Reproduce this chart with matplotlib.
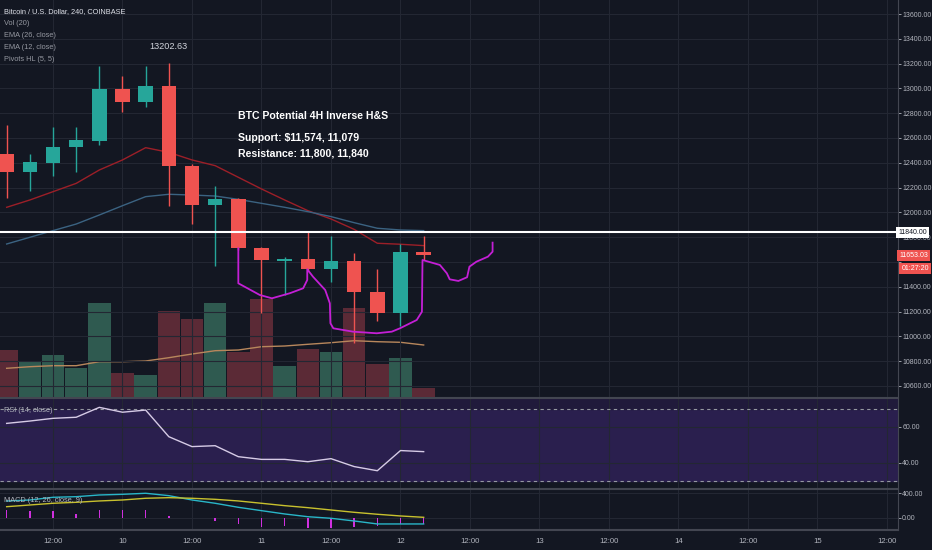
import matplotlib
matplotlib.use("Agg")
import matplotlib.pyplot as plt
import matplotlib.transforms as mtransforms
import numpy as np

# 4h candles, x = hours counted from the 9th 00:00
hours = np.arange(4, 80, 4)
opens = [12468, 12326, 12401, 12525, 12578, 12995, 12888, 13022, 12374, 12060,
         12108, 11715, 11610, 11622, 11541, 11608, 11361, 11191, 11678]
highs = [12705, 12468, 12691, 12691, 13181, 13100, 13181, 13202.63, 12388, 12213,
         12115, 11720, 11643, 11850, 11812, 11670, 11541, 11745, 11810]
lows = [12114, 12175, 12296, 12328, 12544, 12812, 12852, 12052, 11906, 11570,
        11700, 11186, 11334, 11530, 11441, 10944, 11127, 11084, 11616]
closes = [12326, 12404, 12530, 12584, 12995, 12888, 13022, 12374, 12060, 12108,
          11710, 11616, 11622, 11541, 11608, 11355, 11191, 11683, 11653.03]
volume = [4700, 3530, 4200, 2930, 9370, 2370, 2200, 8600, 7800, 9370,
          4530, 9800, 3130, 4800, 4530, 8870, 3300, 3930, 930]
vol_ma = [2870, 3030, 3130, 3130, 3530, 3530, 3600, 3930, 4300, 4630,
          4700, 5030, 5100, 5270, 5430, 5630, 5530, 5470, 5200]
ema12 = [12041, 12100, 12167, 12234, 12342, 12423, 12522, 12484, 12423, 12377,
         12283, 12189, 12100, 12014, 11947, 11863, 11751, 11743, 11732]
ema26 = [11745, 11799, 11853, 11906, 11979, 12054, 12127, 12146, 12140, 12132,
         12105, 12073, 12041, 12006, 11966, 11917, 11872, 11858, 11853]
rsi = [62.0, 63.3, 64.8, 65.4, 70.9, 68.2, 69.4, 54.6, 49.1, 49.6,
       43.5, 42.0, 42.0, 40.7, 42.4, 38.0, 35.7, 46.9, 46.3]
macd = [273, 290, 334, 344, 372, 383, 400, 361, 290, 236,
        170, 115, 61, 16, -10, -54, -103, -103, -103]
signal = [180, 208, 236, 252, 274, 290, 318, 328, 318, 301,
          274, 236, 197, 164, 126, 88, 56, 28, 6]
hist = [120, 110, 110, 65, 120, 120, 120, 27, 0, -55,
        -110, -153, -142, -164, -164, -153, -142, -110, -100]

# hand drawn inverse head & shoulders outline (hours, price)
hs_x = [44, 44, 47.7, 49.8, 52.9, 55.2, 55.9, 55.9, 56.9, 59.0, 59.8, 59.9, 60.4,
        63.8, 67.9, 70.5, 71.9, 74.8, 75.7, 75.8, 78.8, 80.0, 80.5, 82.0, 83.5,
        83.9, 85.1, 87.1, 87.9, 87.9]
hs_y = [11710, 11428, 11334, 11307, 11348, 11388, 11455, 11541, 11481, 11374, 11267,
        11106, 11065, 11038, 11025, 11038, 11065, 11132, 11199, 11616, 11576, 11509,
        11460, 11447, 11477, 11562, 11602, 11643, 11683, 11756]
resistance = 11840

price_ticks = np.arange(10600, 13700, 200)
tick_hours = np.arange(12, 157, 12)
tick_labels = ["12:00", "10", "12:00", "11", "12:00", "12", "12:00", "13",
               "12:00", "14", "12:00", "15", "12:00"]

BG = "#131722"
GRID = "#232733"
TXT = "#b2b5be"
GREEN = "#26a69a"
RED = "#ef5350"
SMALL = 5.0
plt.rcParams["font.family"] = ["Liberation Sans", "DejaVu Sans"]

W, H = 932, 550
fig = plt.figure(figsize=(W / 100, H / 100), dpi=100, facecolor=BG)


def panel(top, bottom):
    return fig.add_axes([0, 1 - bottom / H, 898 / W, (bottom - top) / H])


ax = panel(0, 397)
rsi_ax = panel(398, 488)
macd_ax = panel(489, 530)
vol_ax = ax.twinx()

for a in (ax, rsi_ax, macd_ax):
    a.set_xlim(2.85, 157.9)
    a.yaxis.tick_right()
    a.tick_params(axis="y", colors=TXT, labelsize=SMALL, length=2.2, pad=0.8,
                  width=0.6)
    a.tick_params(axis="x", length=0)
    a.set_xticks(tick_hours)
    a.grid(True, color=GRID, linewidth=0.8)
    a.set_axisbelow(True)
    for s in a.spines.values():
        s.set_visible(False)
    a.spines["right"].set_visible(True)
    a.spines["right"].set_color("#434651")

# volume behind the candles
vol_ax.set_zorder(0)
ax.set_zorder(1)
ax.patch.set_visible(False)
vol_ax.set_facecolor(BG)
vol_ax.set_ylim(0, 39700)
vol_ax.set_yticks([])
for s in vol_ax.spines.values():
    s.set_visible(False)
vcol = ["#2f5a50" if c >= o else "#5b2a36" for o, c in zip(opens, closes)]
vol_ax.bar(hours, volume, width=3.9, color=vcol)
vol_ax.plot(hours, vol_ma, color="#b8875c", linewidth=1)

# price
ax.set_ylim(10511, 13713)
ax.set_yticks(price_ticks)
ax.set_yticklabels(["" if v == 11600 else f"{v:.2f}" for v in price_ticks])
ax.set_xticklabels([])
ccol = [GREEN if c >= o else RED for o, c in zip(opens, closes)]
ax.vlines(hours, lows, highs, color=ccol, linewidth=1, zorder=3)
body_lo = np.minimum(opens, closes)
body_h = np.maximum(np.abs(np.array(closes) - np.array(opens)), 12)
ax.bar(hours, body_h, bottom=body_lo, width=2.5, color=ccol, zorder=4)
ax.plot(hours, ema12, color="#9c1f28", linewidth=1, zorder=2)
ax.plot(hours, ema26, color="#3b6382", linewidth=1, zorder=2)
ax.axhline(resistance, color="white", linewidth=1.5, zorder=5)
ax.plot(hs_x, hs_y, color="#c41fd6", linewidth=1.3, zorder=6,
        solid_joinstyle="round")

ax.annotate(f"{highs[7]:.2f}", (hours[7], highs[7]), xytext=(0, 9),
            textcoords="offset points", ha="center", va="bottom",
            color="#d1d4dc", fontsize=6.6)

note = ["BTC Potential 4H Inverse H&S", "Support: $11,574, 11,079",
        "Resistance: 11,800, 11,840"]
for t, yy in zip(note, (0.708, 0.652, 0.614)):
    ax.text(0.265, yy, t, transform=ax.transAxes, color="white", fontsize=7.6,
            va="center", fontweight="bold")

legend = ["Bitcoin / U.S. Dollar, 240, COINBASE", "Vol (20)", "EMA (26, close)",
          "EMA (12, close)", "Pivots HL (5, 5)"]
for i, t in enumerate(legend):
    ax.text(0.005, 1 - (12 + 11.8 * i) / 397, t, transform=ax.transAxes,
            color="#e0e3eb" if i == 0 else "#9598a1", fontsize=5.3, va="center")

# right-hand price boxes
bt = mtransforms.blended_transform_factory(ax.transAxes, ax.transData)
ax.text(1.0, resistance, f"{resistance:.2f}", transform=bt, fontsize=SMALL,
        color="#131722", va="center", ha="left", clip_on=False, zorder=10,
        bbox=dict(boxstyle="square,pad=0.3", fc="white", ec="none"))
ax.annotate(f"{closes[-1]:.2f}", (1.0, closes[-1]), xycoords=bt,
            xytext=(0.8, 0), textcoords="offset points", fontsize=SMALL,
            color="white", va="center", ha="left", annotation_clip=False,
            zorder=10, bbox=dict(boxstyle="square,pad=0.3", fc=RED, ec="none"))
ax.annotate("01:27:20", (1.0, closes[-1]), xycoords=bt, xytext=(2.5, -9.5),
            textcoords="offset points", fontsize=SMALL, color="white",
            va="center", ha="left", annotation_clip=False, zorder=10,
            bbox=dict(boxstyle="square,pad=0.3", fc=RED, ec="none"))

# RSI
rsi_ax.set_facecolor(BG)
rsi_ax.set_ylim(26.1, 76.1)
rsi_ax.axhspan(30, 70, color="#2a1f4e", zorder=0)
rsi_ax.axhspan(70, 76.1, color="#201a3b", zorder=0)
rsi_ax.axhline(70, color="#9598a1", linewidth=0.8, linestyle=(0, (3, 3)))
rsi_ax.axhline(30, color="#9598a1", linewidth=0.8, linestyle=(0, (3, 3)))
rsi_ax.set_yticks([40, 60])
rsi_ax.set_yticklabels(["40.00", "60.00"])
rsi_ax.set_xticklabels([])
rsi_ax.plot(hours, rsi, color="#d6cbe6", linewidth=1)
rsi_ax.spines["top"].set_visible(True)
rsi_ax.spines["top"].set_color("#434651")
rsi_ax.spines["top"].set_linewidth(1.5)
rsi_ax.text(0.005, 0.86, "RSI (14, close)", transform=rsi_ax.transAxes,
            color="#b2b5be", fontsize=5.3, va="center")

# MACD
macd_ax.set_facecolor(BG)
macd_ax.set_ylim(-202, 470)
macd_ax.set_yticks([0, 400])
macd_ax.set_yticklabels(["0.00", "400.00"])
macd_ax.bar(hours, hist, width=0.25, color="#d030e0")
macd_ax.plot(hours, macd, color="#29b6c8", linewidth=1)
macd_ax.plot(hours, signal, color="#c8c12e", linewidth=1)
macd_ax.spines["top"].set_visible(True)
macd_ax.spines["top"].set_color("#434651")
macd_ax.spines["top"].set_linewidth(1.5)
macd_ax.spines["bottom"].set_visible(True)
macd_ax.spines["bottom"].set_color("#434651")
macd_ax.spines["bottom"].set_linewidth(1.5)
macd_ax.set_xticklabels(tick_labels)
macd_ax.tick_params(axis="x", colors=TXT, labelsize=5.6, pad=5.5)
macd_ax.text(0.005, 0.72, "MACD (12, 26, close, 9)", transform=macd_ax.transAxes,
             color="#b2b5be", fontsize=5.3, va="center")

fig.savefig("out.png", dpi=100, facecolor=BG)
